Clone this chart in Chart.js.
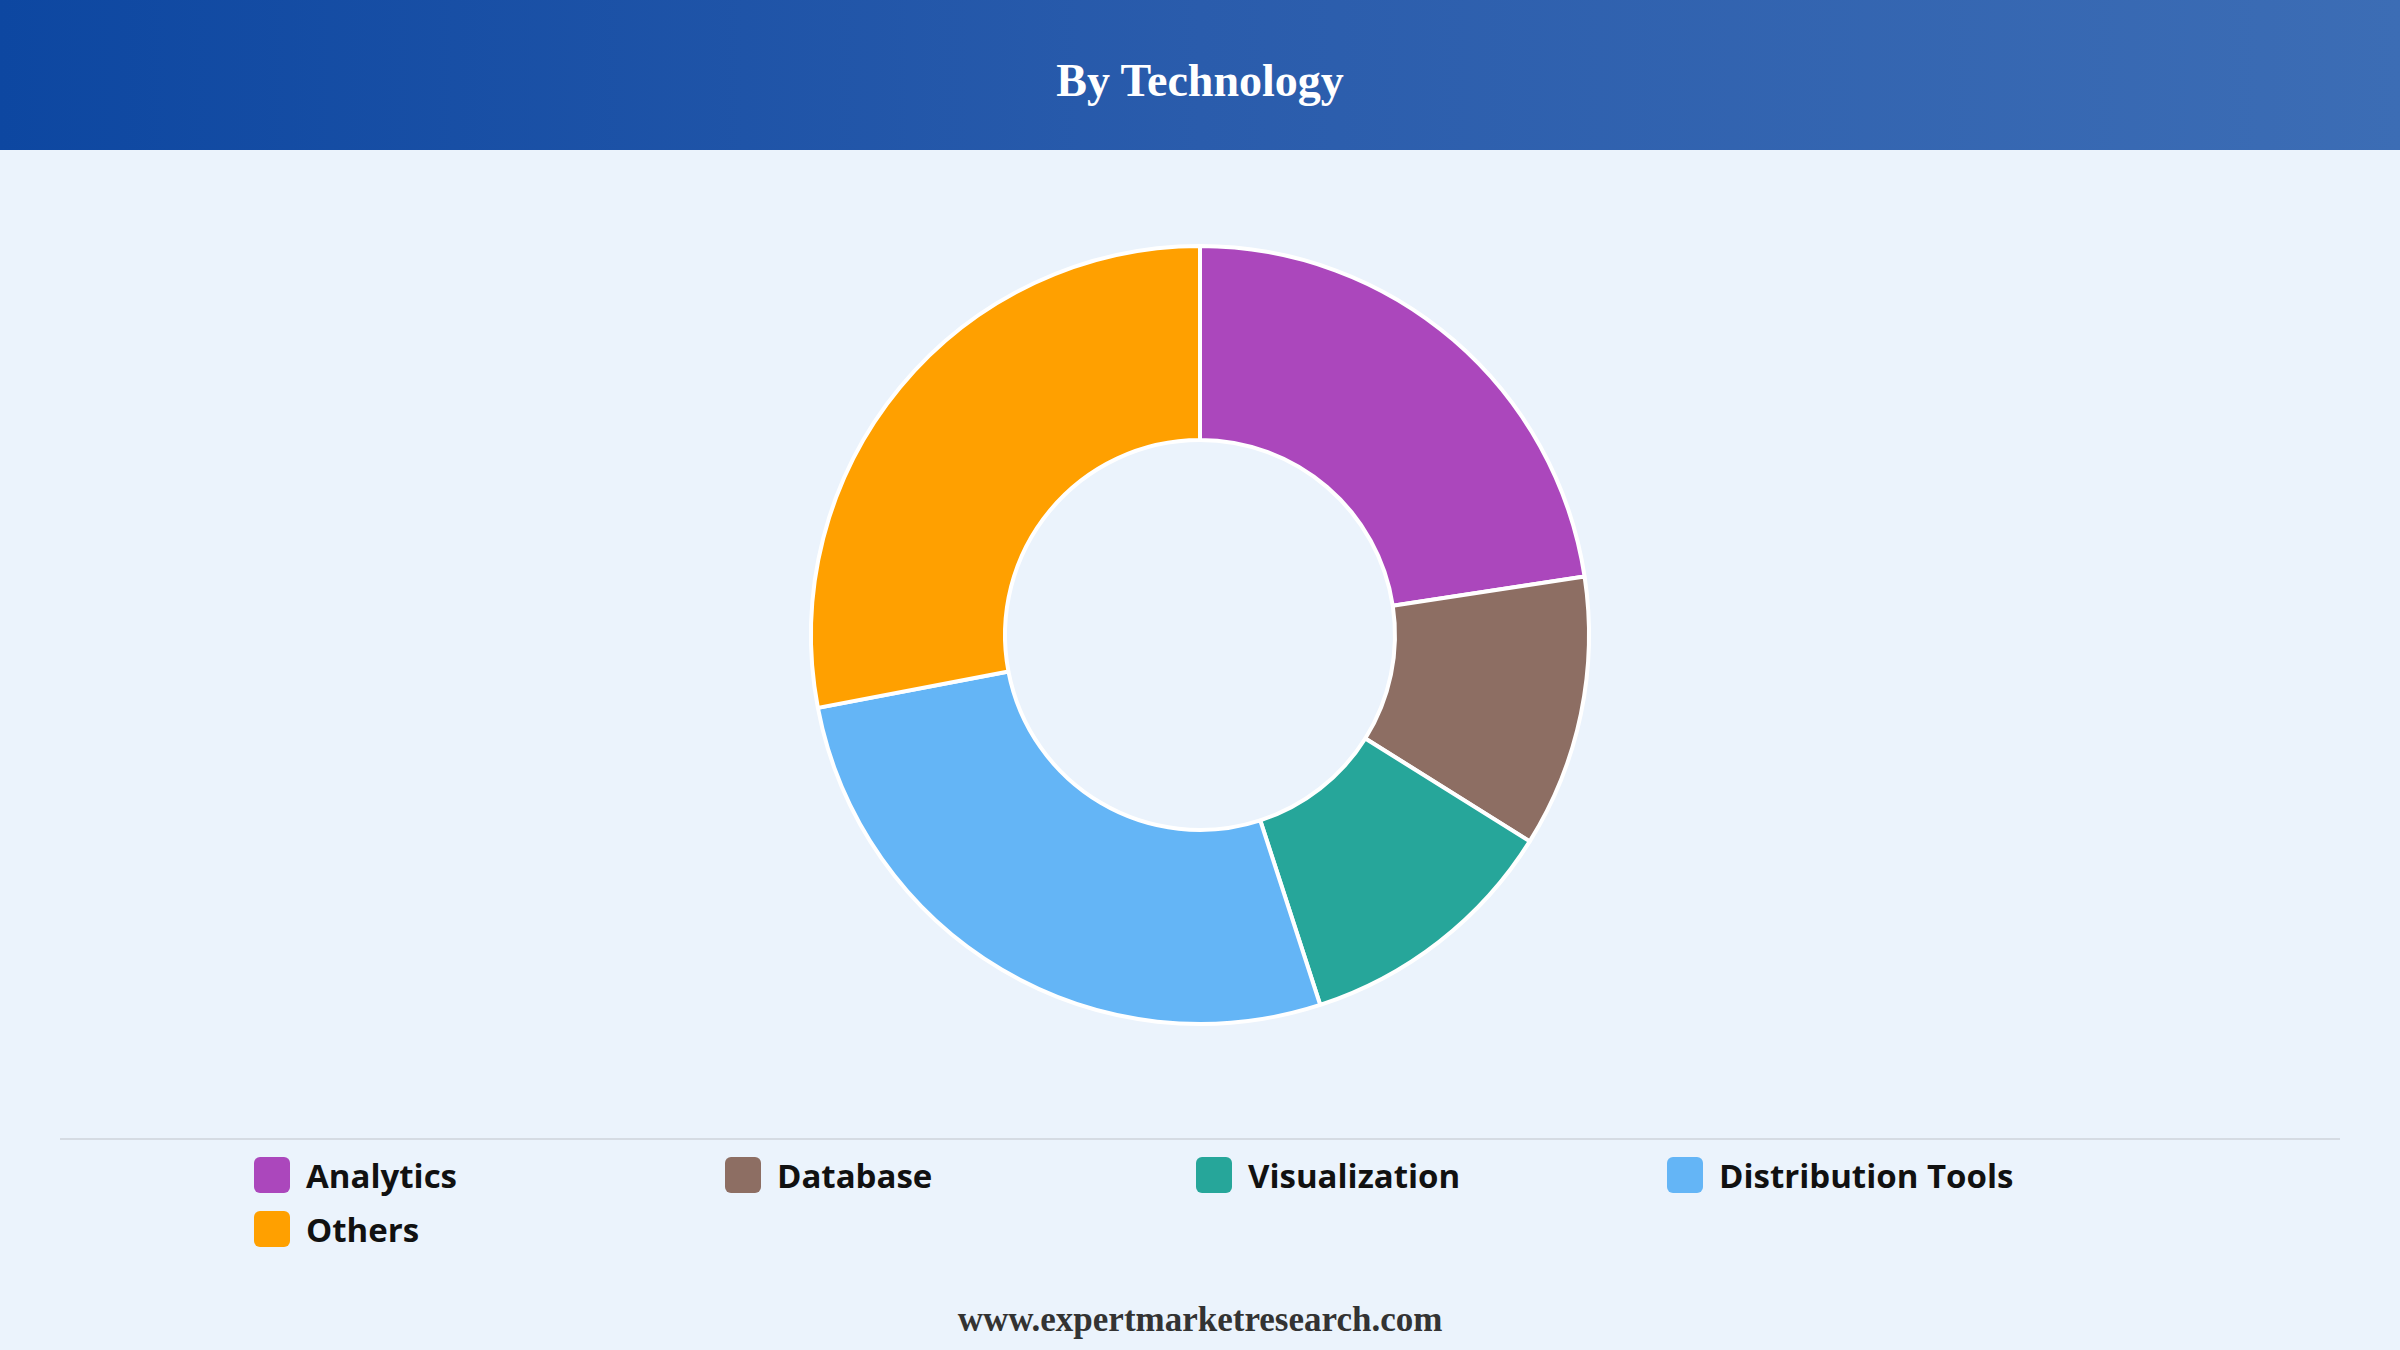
<!DOCTYPE html>
<html>
<head>
<meta charset="utf-8">
<script src="https://cdn.jsdelivr.net/npm/chart.js@4"></script>
<style>
  html, body { margin: 0; padding: 0; }
  body { width: 2400px; height: 1350px; background: #ebf3fc; position: relative; overflow: hidden; font-family: 'Open Sans', sans-serif; }
  .header { position: absolute; left: 0; top: 0; width: 2400px; height: 150px;
    background: linear-gradient(90deg, #0d47a1 0%, #2a5cac 50%, #3c6db5 100%);
    color: #fff; font-family: 'Liberation Serif', serif; font-weight: bold; font-size: 46px;
    display: flex; align-items: center; justify-content: center; padding-top: 10px; box-sizing: border-box; }
  .chart-box { position: absolute; left: 0; top: 230px; width: 2400px; height: 810px; }
  .sep { position: absolute; left: 60px; top: 1138px; width: 2280px; height: 2px; background: #d5dbe3; }
  .legend { position: absolute; left: 254px; top: 1155px; width: 2000px; display: grid;
    grid-template-columns: repeat(4, 471px); row-gap: 14px; }
  .item { display: flex; align-items: center; font-size: 33px; font-weight: bold; color: #111; height: 40px; }
  .sw { width: 36px; height: 36px; border-radius: 6px; margin-right: 16px; }
  .footer { position: absolute; left: 0; top: 1300px; width: 2400px; text-align: center;
    font-family: 'Liberation Serif', serif; font-weight: bold; font-size: 35px; color: #333; }
</style>
</head>
<body>
<div class="header">By Technology</div>
<div class="chart-box"><canvas id="chart"></canvas></div>
<div class="sep"></div>
<div class="legend" id="legend"></div>
<div class="footer">www.expertmarketresearch.com</div>
<script>
const labels = ['Analytics', 'Database', 'Visualization', 'Distribution Tools', 'Others'];
const values = [22.6, 11.3, 11.1, 27, 28];
const colors = ['#ab47bc', '#8d6e63', '#26a69a', '#64b5f6', '#ffa000'];

new Chart(document.getElementById('chart'), {
  type: 'doughnut',
  data: {
    labels: labels,
    datasets: [{
      data: values,
      backgroundColor: colors,
      borderColor: '#ffffff',
      borderWidth: 4
    }]
  },
  options: {
    responsive: true,
    maintainAspectRatio: false,
    animation: false,
    radius: 389,
    cutout: 202,
    plugins: {
      legend: { display: false },
      tooltip: { enabled: false }
    }
  }
});

const legend = document.getElementById('legend');
labels.forEach((l, i) => {
  const d = document.createElement('div');
  d.className = 'item';
  d.innerHTML = `<span class="sw" style="background:${colors[i]}"></span>${l}`;
  legend.appendChild(d);
});
</script>
</body>
</html>
